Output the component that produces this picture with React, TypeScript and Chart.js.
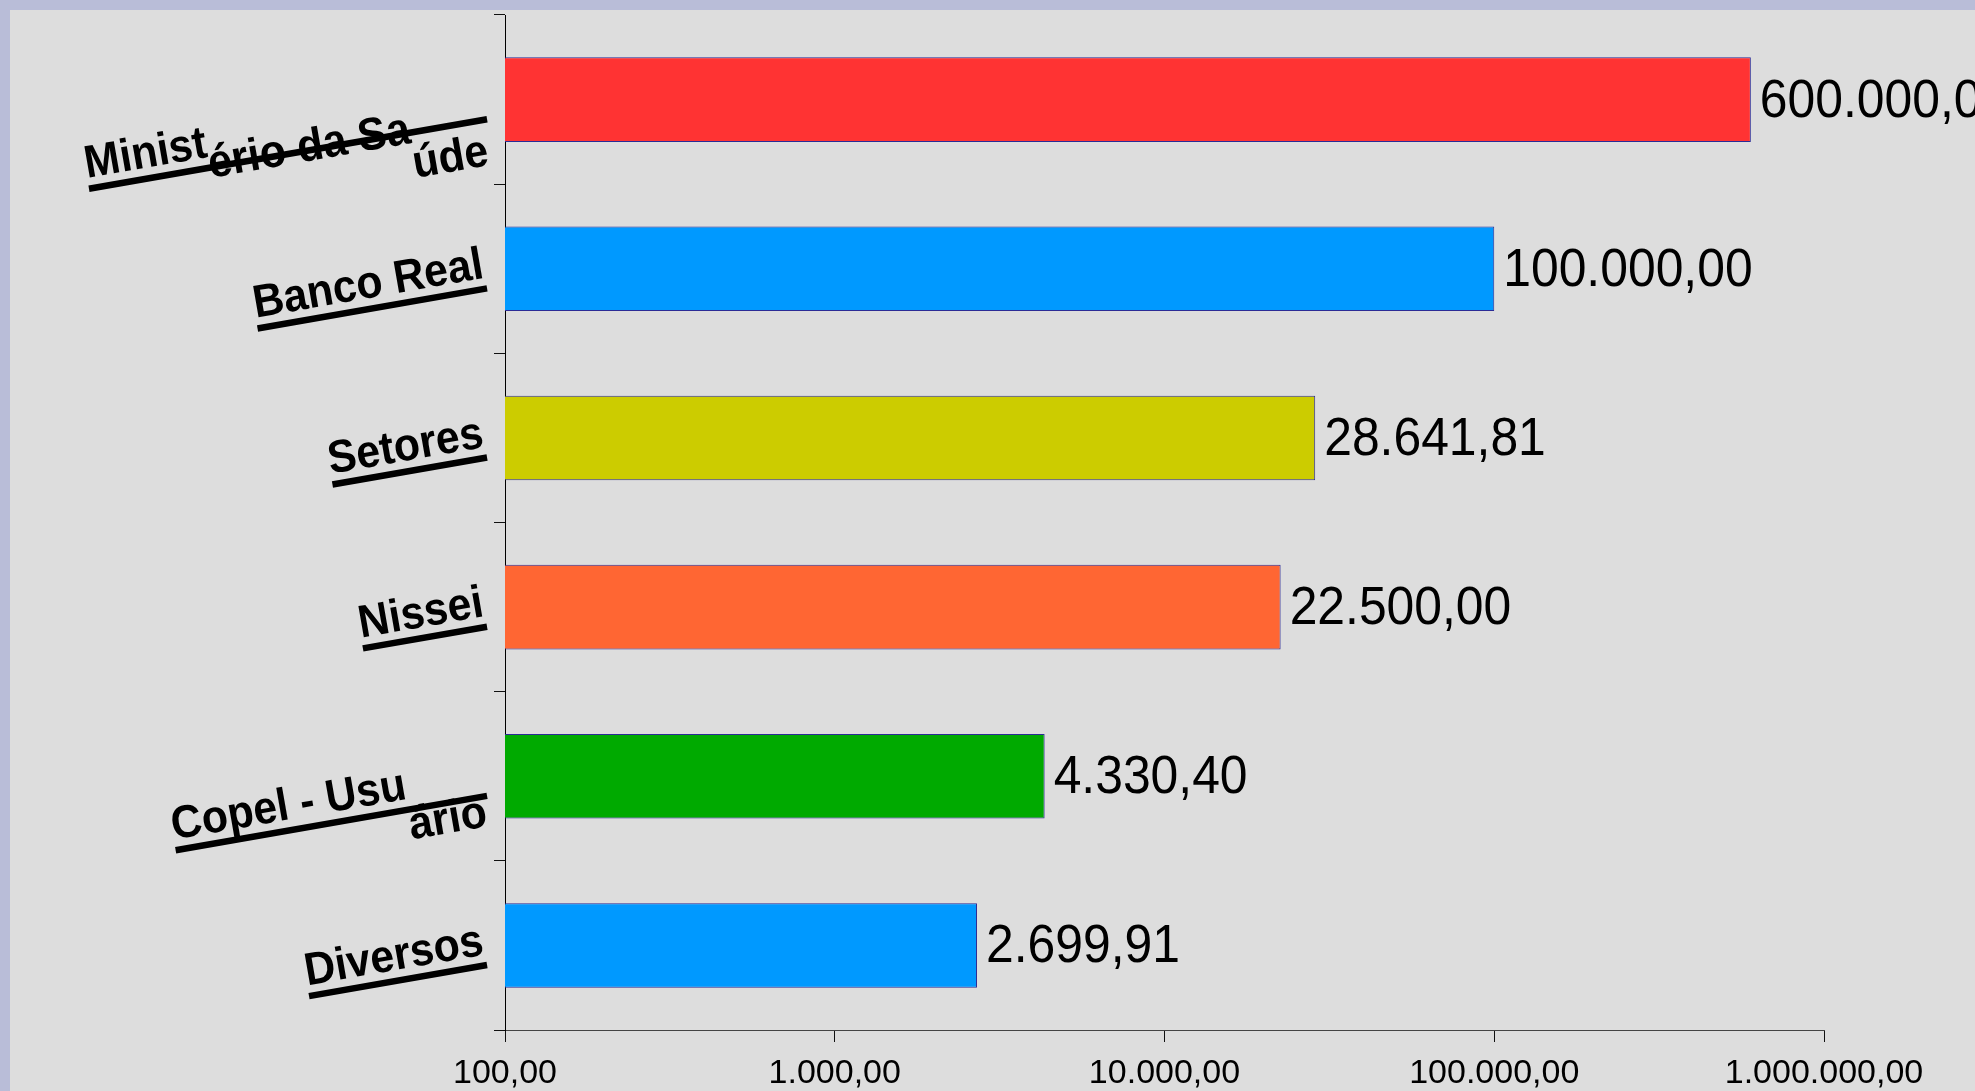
import React, { useEffect, useRef } from "react";
import { Chart, registerables } from "chart.js";

Chart.register(...registerables);

const categories = ["Ministério da Saúde", "Banco Real", "Setores", "Nissei", "Copel - Usuário", "Diversos"];
const values = [600000, 100000, 28641.81, 22500, 4330.4, 2699.91];
const barColors = ["#ff3333", "#0099ff", "#cccc00", "#ff6633", "#00aa00", "#0099ff"];
const tickValues = [100, 1000, 10000, 100000, 1000000];
const tickLabels = ["100,00", "1.000,00", "10.000,00", "100.000,00", "1.000.000,00"];

function fmt(v: number): string {
  const [i, d] = v.toFixed(2).split(".");
  return i.replace(/\B(?=(\d{3})+(?!\d))/g, ".") + "," + d;
}

function splitSegments(s: string): string[] {
  const segs: string[] = [];
  let cur = "";
  for (const ch of s) {
    if (/[^\x00-\x7f]/.test(ch) && cur) {
      segs.push(cur);
      cur = ch;
    } else cur += ch;
  }
  if (cur) segs.push(cur);
  return segs;
}

const labelsPlugin = {
  id: "customLabels",
  afterDraw(chart: any) {
    const ctx = chart.ctx as CanvasRenderingContext2D;
    const xs = chart.scales.x;
    const ys = chart.scales.y;
    const meta = chart.getDatasetMeta(0);
    ctx.save();
    ctx.fillStyle = "#000";

    // value labels
    ctx.font = '53px "Liberation Sans", Arial, sans-serif';
    ctx.textAlign = "left";
    ctx.textBaseline = "alphabetic";
    meta.data.forEach((bar: any, i: number) => {
      ctx.save();
      ctx.translate(bar.x + 9, bar.y + 17);
      ctx.scale(0.94, 1);
      ctx.fillText(fmt(values[i]), 0, 0);
      ctx.restore();
    });

    // x tick labels
    ctx.font = '34px "Liberation Sans", Arial, sans-serif';
    ctx.textAlign = "center";
    tickValues.forEach((v, i) => {
      ctx.fillText(tickLabels[i], xs.getPixelForValue(v), xs.top + 53);
    });

    // category labels
    const theta = (9.9 * Math.PI) / 180;
    const c = Math.cos(theta);
    const s = Math.sin(theta);
    const sx = 0.93;
    ctx.font = 'bold 46px "Liberation Sans", Arial, sans-serif';
    ctx.textAlign = "left";
    ctx.textBaseline = "middle";
    const xR = ys.right - 22;
    categories.forEach((cat, i) => {
      const yc = ys.getPixelForValue(i) - 3.6;
      const segs = splitSegments(cat);
      const widths = segs.map((t) => ctx.measureText(t).width * sx);
      const W = widths.reduce((a, b) => a + b, 0);
      const x0 = xR - W * c;
      const y0 = yc + W * s;
      let ox = 0;
      segs.forEach((t, k) => {
        ctx.save();
        ctx.translate(x0 + ox, y0);
        ctx.rotate(-theta);
        ctx.scale(sx, 1);
        ctx.fillText(t, 0, 0);
        ctx.restore();
        ox += widths[k];
      });
      ctx.save();
      ctx.translate(x0, y0);
      ctx.rotate(-theta);
      ctx.fillRect(0, 23.6 - 3.25, W, 6.5);
      ctx.restore();
    });
    ctx.restore();
  },
};

export default function App() {
  const ref = useRef<HTMLCanvasElement | null>(null);
  useEffect(() => {
    document.body.style.margin = "0";
    document.body.style.overflow = "hidden";
    const canvas = ref.current;
    if (!canvas) return;
    const chart = new Chart(canvas, {
      type: "bar",
      data: {
        labels: categories,
        datasets: [
          {
            data: values,
            backgroundColor: barColors,
            borderColor: "#2b2b96",
            borderWidth: 1,
            barPercentage: 0.5,
            categoryPercentage: 1,
          },
        ],
      },
      options: {
        indexAxis: "y",
        responsive: false,
        animation: false,
        plugins: { legend: { display: false }, tooltip: { enabled: false } },
        layout: { padding: { top: 5, right: 151, left: 0, bottom: 0 } },
        scales: {
          x: {
            type: "logarithmic",
            min: 100,
            max: 1000000,
            afterBuildTicks: (sc: any) => {
              sc.ticks = tickValues.map((v) => ({ value: v }));
            },
            ticks: { display: false },
            grid: { drawOnChartArea: false, drawTicks: true, tickLength: 12, color: "#111" },
            border: { display: true, color: "#444", width: 1 },
            afterFit: (sc: any) => {
              sc.height = 61;
            },
          },
          y: {
            ticks: { display: false },
            grid: { drawOnChartArea: false, drawTicks: true, tickLength: 11, color: "#111", offset: true },
            border: { display: true, color: "#000", width: 1 },
            afterFit: (sc: any) => {
              sc.width = 495;
            },
          },
        },
      } as any,
      plugins: [labelsPlugin],
    });
    return () => chart.destroy();
  }, []);
  return (
    <div style={{ width: 1975, height: 1091, background: "#b9bdd8", position: "relative", overflow: "hidden" }}>
      <canvas
        ref={ref}
        width={1965}
        height={1081}
        style={{ position: "absolute", left: 10, top: 10, background: "#dddddd", width: 1965, height: 1081 }}
      />
    </div>
  );
}
